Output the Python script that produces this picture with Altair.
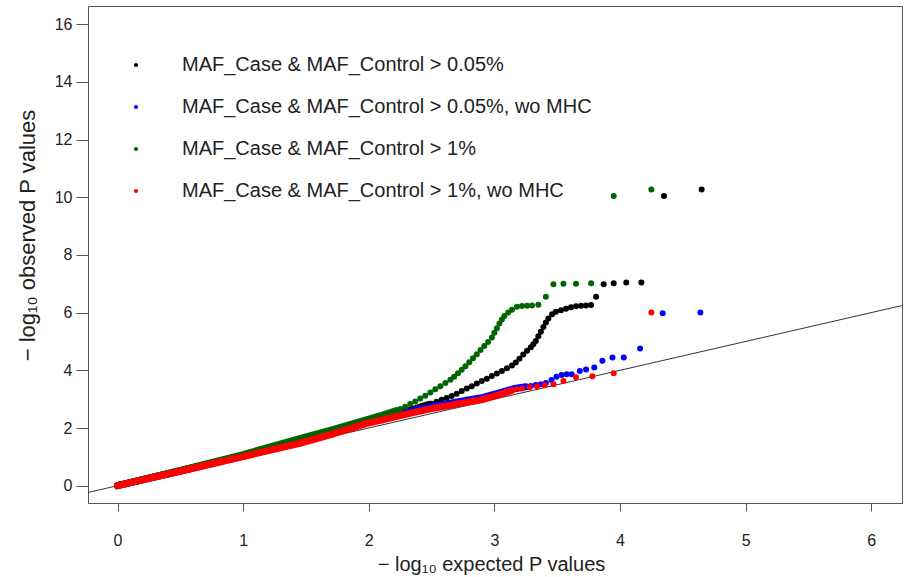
import altair as alt
import pandas as pd

FONT = "Liberation Sans"

series_names = [
    "MAF_Case & MAF_Control > 0.05%",
    "MAF_Case & MAF_Control > 0.05%, wo MHC",
    "MAF_Case & MAF_Control > 1%",
    "MAF_Case & MAF_Control > 1%, wo MHC",
]
series_colors = ["#000000", "#0000ff", "#006400", "#ff0000"]

x_ticks = [0, 1, 2, 3, 4, 5, 6]
y_ticks = [0, 2, 4, 6, 8, 10, 12, 14, 16]

# Low end of each QQ curve, where the points overlap into one solid band
black_band_x = [0, 0.5, 1.0, 1.45, 1.72, 1.98, 2.11, 2.25, 2.38, 2.48]
black_band_y = [0, 0.52, 1.05, 1.54, 1.88, 2.22, 2.36, 2.52, 2.68, 2.82]
blue_band_x = [0, 0.5, 1.0, 1.45, 1.72, 1.98, 2.11, 2.25, 2.38, 2.51, 2.65, 2.78, 2.91, 3.04, 3.15, 3.25]
blue_band_y = [0, 0.51, 1.03, 1.50, 1.84, 2.20, 2.33, 2.48, 2.63, 2.75, 2.86, 2.96, 3.06, 3.22, 3.36, 3.43]
green_band_x = [0, 0.5, 1.0, 1.45, 1.72, 1.98, 2.11, 2.22]
green_band_y = [0, 0.53, 1.08, 1.63, 1.95, 2.28, 2.45, 2.60]
red_band_x = [0, 0.5, 1.0, 1.45, 1.72, 1.98, 2.11, 2.25, 2.38, 2.51, 2.65, 2.78, 2.91, 3.04, 3.14]
red_band_y = [0, 0.50, 1.01, 1.47, 1.80, 2.15, 2.28, 2.43, 2.56, 2.68, 2.79, 2.89, 2.99, 3.16, 3.30]

# Upper tail: individual points (expected, observed -log10 p)
black_pts_x = [2.50, 2.54, 2.58, 2.62, 2.66, 2.70, 2.74, 2.78, 2.82, 2.86, 2.90, 2.94,
               2.98, 3.02, 3.06, 3.10, 3.14, 3.17, 3.20, 3.23, 3.26, 3.29, 3.31, 3.33,
               3.35, 3.37, 3.39, 3.41, 3.43, 3.46, 3.49, 3.53, 3.57, 3.61, 3.65, 3.69,
               3.73, 3.77, 3.81, 3.87, 3.95, 4.05, 4.17, 4.35, 4.65]
black_pts_y = [2.84, 2.91, 2.98, 3.04, 3.11, 3.19, 3.28, 3.37, 3.45, 3.54, 3.63, 3.71,
               3.80, 3.89, 3.98, 4.07, 4.17, 4.27, 4.40, 4.55, 4.68, 4.80, 4.90, 5.02,
               5.18, 5.34, 5.50, 5.66, 5.80, 5.94, 6.03, 6.08, 6.13, 6.19, 6.22, 6.24,
               6.25, 6.26, 6.55, 6.98, 7.02, 7.04, 7.04, 10.04, 10.27]
blue_pts_x = [3.29, 3.33, 3.37, 3.41, 3.455, 3.495, 3.535, 3.575, 3.615, 3.68, 3.73,
              3.795, 3.86, 3.94, 4.03, 4.16, 4.34, 4.64]
blue_pts_y = [3.46, 3.49, 3.52, 3.56, 3.66, 3.78, 3.84, 3.86, 3.86, 3.98, 4.03,
              4.10, 4.33, 4.44, 4.44, 4.76, 5.98, 6.00]
green_pts_x = [2.25, 2.29, 2.33, 2.37, 2.41, 2.45, 2.49, 2.53, 2.57, 2.61, 2.65, 2.68,
               2.71, 2.74, 2.77, 2.80, 2.83, 2.86, 2.89, 2.92, 2.95, 2.98, 3.00, 3.02,
               3.04, 3.06, 3.08, 3.11, 3.14, 3.18, 3.22, 3.26, 3.30, 3.35, 3.41, 3.47,
               3.55, 3.65, 3.77, 3.95, 4.25]
green_pts_y = [2.66, 2.74, 2.83, 2.92, 3.02, 3.12, 3.23, 3.34, 3.45, 3.56, 3.67, 3.78,
               3.90, 4.02, 4.14, 4.28, 4.42, 4.56, 4.70, 4.84, 4.98, 5.14, 5.30, 5.46,
               5.62, 5.76, 5.88, 6.00, 6.10, 6.20, 6.23, 6.24, 6.25, 6.27, 6.55, 6.98,
               7.00, 7.00, 7.02, 10.04, 10.27]
red_pts_x = [3.18, 3.22, 3.28, 3.34, 3.40, 3.47, 3.55, 3.65, 3.78, 3.95, 4.25]
red_pts_y = [3.34, 3.37, 3.41, 3.44, 3.48, 3.52, 3.63, 3.76, 3.79, 3.90, 6.00]

# y = x reference line, clipped to the plot area
diag_x = [-1, 7]
diag_y = [-1, 7]

bands = [(black_band_x, black_band_y), (blue_band_x, blue_band_y),
         (green_band_x, green_band_y), (red_band_x, red_band_y)]
points = [(black_pts_x, black_pts_y), (blue_pts_x, blue_pts_y),
          (green_pts_x, green_pts_y), (red_pts_x, red_pts_y)]

x_scale = alt.Scale(domain=[-0.235, 6.245], nice=False, zero=False)
y_scale = alt.Scale(domain=[-0.6, 16.63], nice=False, zero=False)
color_scale = alt.Scale(domain=series_names, range=series_colors)

x_enc = alt.X(
    "x:Q", scale=x_scale,
    axis=alt.Axis(
        values=x_ticks, title="− log₁₀ expected P values", grid=False, domain=False,
        tickSize=8, tickColor="#555555", labelFontSize=16, labelPadding=21,
        labelColor="#222222", labelFont=FONT, titleFont=FONT, titleFontSize=20,
        titleFontWeight="normal", titleColor="#222222", titleX=403, titleY=67,
        titleBaseline="alphabetic", titleAlign="center",
    ),
)
y_enc = alt.Y(
    "y:Q", scale=y_scale,
    axis=alt.Axis(
        values=y_ticks, title="− log₁₀ observed P values", grid=False, domain=False,
        tickSize=12, tickColor="#555555", labelFontSize=16, labelPadding=4,
        labelColor="#222222", labelFont=FONT, titleFont=FONT, titleFontSize=22,
        titleFontWeight="normal", titleColor="#222222", titleX=-54, titleY=229,
        titleBaseline="alphabetic", titleAlign="center", titleAngle=270,
    ),
)

layers = [
    alt.Chart(pd.DataFrame({"x": diag_x, "y": diag_y}))
    .mark_line(color="#333333", strokeWidth=1, clip=True)
    .encode(x=x_enc, y=y_enc)
]

legend = alt.Legend(
    orient="none", legendX=38, legendY=49, title=None, padding=0,
    labelFont=FONT, labelFontSize=20, labelColor="#222222", labelLimit=0,
    labelOffset=36, rowPadding=22, symbolType="circle", symbolSize=18,
    symbolStrokeWidth=0, symbolOpacity=1,
)

for i, name in enumerate(series_names):
    bx, by = bands[i]
    px, py = points[i]
    band_df = pd.DataFrame({"x": bx, "y": by, "series": name})
    pts_df = pd.DataFrame({"x": px, "y": py, "series": name})
    layers.append(
        alt.Chart(band_df)
        .mark_line(strokeWidth=7, strokeCap="round", strokeJoin="round", clip=True)
        .encode(x=x_enc, y=y_enc,
                color=alt.Color("series:N", scale=color_scale, legend=None))
    )
    layers.append(
        alt.Chart(pts_df)
        .mark_circle(size=36, opacity=1, clip=True)
        .encode(x=x_enc, y=y_enc,
                color=alt.Color("series:N", scale=color_scale,
                                legend=legend if i == 0 else None))
    )

chart = (
    alt.layer(*layers)
    .resolve_legend(color="independent")
    .properties(
        width=814, height=497, autosize="none",
        padding={"left": 88, "top": 6, "right": 2, "bottom": 74},
        background="white",
    )
    .configure_view(stroke="#555555", strokeWidth=1)
)

chart.save("out.html", embed_options={"renderer": "svg", "actions": False})
